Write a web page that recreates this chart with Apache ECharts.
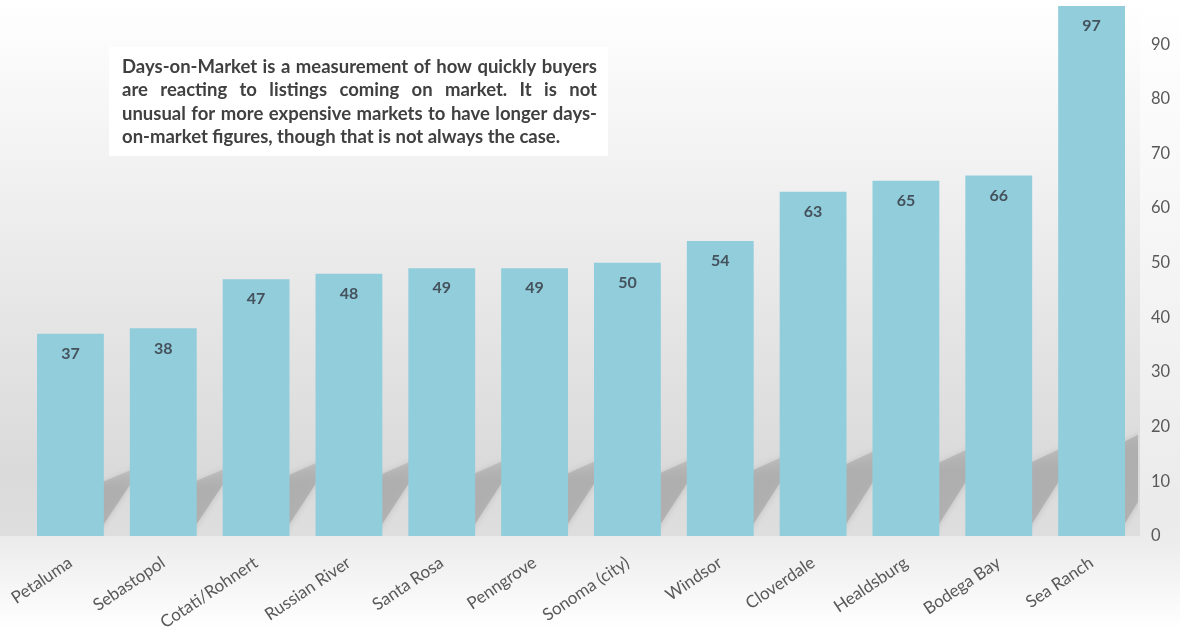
<!DOCTYPE html>
<html>
<head>
<meta charset="utf-8">
<title>Days-on-Market</title>
<script src="https://cdn.jsdelivr.net/npm/echarts/dist/echarts.min.js"></script>
<style>
  html, body { margin: 0; padding: 0; background: #ffffff; }
  #chart { width: 1180px; height: 629px; }
</style>
</head>
<body>
<div id="chart"></div>
<script>
// Median days on market by area
const categories = ['Petaluma', 'Sebastopol', 'Cotati/Rohnert', 'Russian River', 'Santa Rosa', 'Penngrove',
  'Sonoma (city)', 'Windsor', 'Cloverdale', 'Healdsburg', 'Bodega Bay', 'Sea Ranch'];
const daysOnMarket = [37, 38, 47, 48, 49, 49, 50, 54, 63, 65, 66, 97];
const yTickStep = 10;

// Note text, one entry per printed line (the last line is not justified)
const noteLines = [
  'Days-on-Market is a measurement of how quickly buyers',
  'are reacting to listings coming on market. It is not',
  'unusual for more expensive markets to have longer days-',
  'on-market figures, though that is not always the case.'
];

const FONT = 'Lato, "Open Sans", "DejaVu Sans", sans-serif';
const BAR_RATIO = 0.72;

const chart = echarts.init(document.getElementById('chart'), null, { renderer: 'canvas' });

// ---- note box: justified lines laid out from measured word widths ----
function buildNote(box) {
  const ctx = document.createElement('canvas').getContext('2d');
  const left = box.x + 13, right = box.x + box.w - 11;
  // size the font so the free-running last line spans its natural width
  ctx.font = 'bold 100px ' + FONT;
  const lastW = ctx.measureText(noteLines[noteLines.length - 1]).width;
  let size = Math.min(18.5, 100 * (box.lastLineWidth / lastW));
  const font = 'bold ' + size.toFixed(2) + 'px ' + FONT;
  ctx.font = font;
  const els = [{
    type: 'rect', z: 50, silent: true,
    shape: { x: box.x, y: box.y, width: box.w, height: box.h },
    style: { fill: '#ffffff' }
  }];
  noteLines.forEach((line, li) => {
    const words = line.split(' ');
    const widths = words.map(w => ctx.measureText(w).width);
    const total = widths.reduce((a, b) => a + b, 0);
    const justify = li < noteLines.length - 1;
    const gap = justify ? (right - left - total) / (words.length - 1) : ctx.measureText(' ').width;
    let x = left;
    const y = box.y + 20 + li * 23.5;
    words.forEach((w, wi) => {
      els.push({
        type: 'text', z: 51, silent: true, x: x, y: y,
        style: { text: w, font: font, fill: '#404040', textAlign: 'left', textVerticalAlign: 'middle', verticalAlign: 'middle' }
      });
      x += widths[wi] + gap;
    });
  });
  return els;
}

const gridBox = { left: 24, right: 42, top: 6, bottom: 93 };
const W = 1180, H = 629;
const wallBottom = H - gridBox.bottom;

const backdrop = [
  // page background
  {
    type: 'rect', z: -20, silent: true,
    shape: { x: 0, y: 0, width: W, height: H },
    style: {
      fill: new echarts.graphic.LinearGradient(0, 0, 0, 1, [
        { offset: 0, color: '#ffffff' },
        { offset: 0.45, color: '#f4f4f4' },
        { offset: 0.8, color: '#ebebeb' },
        { offset: 0.86, color: '#ececec' },
        { offset: 1, color: '#ffffff' }
      ])
    }
  },
  // back wall behind the bars
  {
    type: 'rect', z: -19, silent: true,
    shape: { x: 0, y: 0, width: W - gridBox.right + 2, height: wallBottom },
    style: {
      fill: new echarts.graphic.LinearGradient(0, 0, 0, 1, [
        { offset: 0, color: '#ffffff' },
        { offset: 0.3, color: '#f2f2f2' },
        { offset: 0.6, color: '#e5e5e5' },
        { offset: 0.88, color: '#dadada' },
        { offset: 1, color: '#dedede' }
      ])
    }
  },
  // floor strip below the baseline
  {
    type: 'rect', z: -19, silent: true,
    shape: { x: 0, y: wallBottom, width: W - gridBox.right + 2, height: H - wallBottom },
    style: {
      fill: new echarts.graphic.LinearGradient(0, 0, 0, 1, [
        { offset: 0, color: '#ebebeb' },
        { offset: 1, color: '#ffffff' }
      ])
    }
  }
];

const option = {
  animation: false,
  backgroundColor: 'transparent',
  textStyle: { fontFamily: FONT },
  grid: Object.assign({ containLabel: false, outerBoundsMode: 'none' }, gridBox),
  xAxis: {
    type: 'category',
    data: categories,
    axisLine: { show: false },
    axisTick: { show: false },
    axisLabel: { rotate: 34, margin: 25, interval: 0, fontSize: 17, color: '#595959', fontFamily: FONT }
  },
  yAxis: {
    type: 'value',
    position: 'right',
    min: 0,
    max: v => v.max,
    interval: yTickStep,
    splitLine: { show: false },
    axisLine: { show: false },
    axisTick: { show: false },
    axisLabel: { margin: 13, fontSize: 16.5, color: '#595959', showMaxLabel: false, fontFamily: FONT }
  },
  graphic: backdrop.concat(buildNote({ x: 109, y: 47, w: 499, h: 109, lastLineWidth: 448 })),
  series: [
    {
      // slanted drop shadow cast up and to the right of each bar
      type: 'custom',
      silent: true,
      clip: true,
      z: 1,
      data: daysOnMarket.map((v, i) => [i, v]),
      encode: { x: 0, y: 1 },
      renderItem: function (params, api) {
        const i = api.value(0), v = api.value(1);
        const base = api.coord([i, 0]);
        const top = api.coord([i, v]);
        const bw = api.size([1, 0])[0] * BAR_RATIO;
        const barH = base[1] - top[1];
        const hl = 0.12 * barH + 22;    // shadow height at the bar's right edge
        const h = hl * 1.54;            // height of the far tip
        const dx = h / 1.8;
        const xr = base[0] + bw / 2, y0 = base[1];
        const back = 8;
        return {
          type: 'polygon',
          shape: { points: [[xr - back, y0], [xr + dx, y0 - h], [xr - back, y0 - hl - 0.63 * back]] },
          style: {
            fill: new echarts.graphic.LinearGradient(0, 0, 0, 1, [
              { offset: 0, color: 'rgba(168,168,168,0.35)' },
              { offset: 0.35, color: 'rgba(170,170,170,0.8)' },
              { offset: 1, color: 'rgba(176,176,176,0.92)' }
            ]),
            shadowBlur: 6,
            shadowColor: 'rgba(170,170,170,0.7)'
          }
        };
      }
    },
    {
      type: 'bar',
      z: 3,
      data: daysOnMarket,
      barCategoryGap: ((1 - BAR_RATIO) * 100) + '%',
      itemStyle: { color: '#92cddc' },
      label: {
        show: true,
        position: 'insideTop',
        distance: 12,
        fontSize: 16,
        fontWeight: 'bold',
        color: '#44525c',
        fontFamily: FONT
      }
    }
  ]
};

chart.setOption(option);
</script>
</body>
</html>
